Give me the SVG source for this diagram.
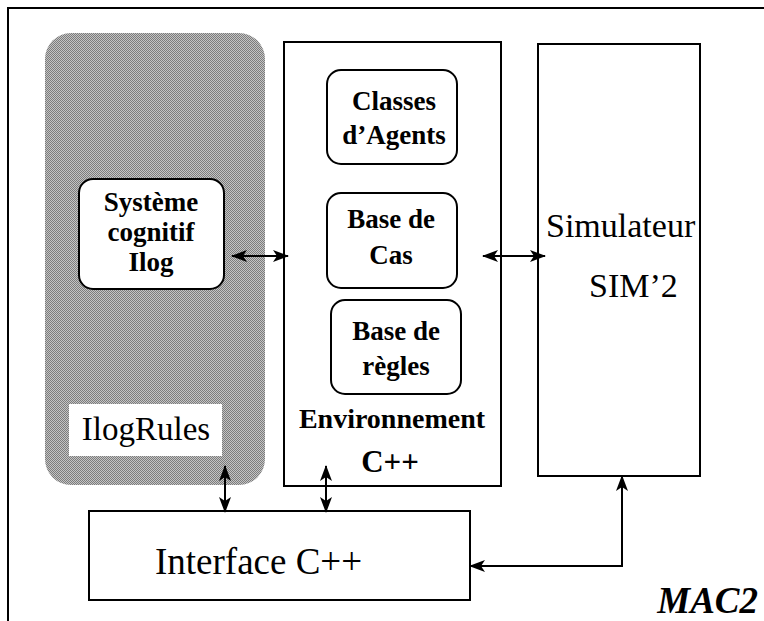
<svg xmlns="http://www.w3.org/2000/svg" width="764" height="621" viewBox="0 0 764 621">
<style>
.box{fill:#fff;stroke:#000;stroke-width:2}
.rbox{fill:#fff;stroke:#000;stroke-width:2}
.b{font-family:"Liberation Serif","Times New Roman",serif;font-weight:bold;font-size:27px;text-anchor:middle;fill:#000}
.r{font-family:"Liberation Serif","Times New Roman",serif;font-size:34px;fill:#000}
.con{stroke:#000;stroke-width:2;fill:none}
</style>
<defs>
<marker id="ah" viewBox="0 0 16 12" refX="15" refY="6" markerWidth="16" markerHeight="12" markerUnits="userSpaceOnUse" orient="auto-start-reverse">
<path d="M0,0 L16,6 L0,12 L4,6 Z" fill="#000"/>
</marker>
<pattern id="dither" width="2" height="2" patternUnits="userSpaceOnUse">
<rect width="2" height="2" fill="#c4c4c4"/>
<rect width="1" height="1" fill="#7c7c7c"/>
<rect x="1" y="1" width="1" height="1" fill="#7c7c7c"/>
</pattern>
</defs>
<rect width="764" height="621" fill="#fff"/>
<g id="frame"><rect x="8" y="8" width="760" height="630" fill="none" stroke="#000" stroke-width="2"/></g>

<g id="ilogrules">
<rect x="45" y="33" width="220" height="452" rx="26" fill="url(#dither)"/>
<rect x="69" y="404" width="153" height="52" fill="#fff"/>
<text class="r" x="146" y="440" text-anchor="middle" style="font-size:33px">IlogRules</text>
</g>
<g id="systeme">
<rect class="rbox" x="79" y="179" width="145" height="110" rx="14"/>
<text class="b" x="151" y="211">Système</text>
<text class="b" x="151" y="241">cognitif</text>
<text class="b" x="151" y="271">Ilog</text>
</g>

<g id="environnement">
<rect class="box" x="284" y="42" width="217" height="444"/>
<text class="b" x="392" y="428" style="font-size:28px">Environnement</text>
<text class="b" x="390" y="472" style="font-size:31px">C++</text>
</g>
<g id="classes">
<rect class="rbox" x="327" y="70" width="130" height="94" rx="14"/>
<text class="b" x="394" y="110">Classes</text>
<text class="b" x="394" y="144">d’Agents</text>
</g>
<g id="basecas">
<rect class="rbox" x="327" y="193" width="130" height="95" rx="14"/>
<text class="b" x="391" y="228">Base de</text>
<text class="b" x="391" y="264">Cas</text>
</g>
<g id="baseregles">
<rect class="rbox" x="331" y="300" width="130" height="94" rx="14"/>
<text class="b" x="396" y="340">Base de</text>
<text class="b" x="396" y="375">règles</text>
</g>

<g id="simulateur">
<rect class="box" x="538" y="44" width="162" height="432"/>
<text class="r" x="546" y="237">Simulateur</text>
<text class="r" x="589" y="297">SIM’2</text>
</g>

<g id="interface">
<rect class="box" x="89" y="511" width="381" height="89"/>
<text class="r" x="155" y="574" style="font-size:37px">Interface C++</text>
</g>

<g id="mac2">
<text x="758" y="613" text-anchor="end" style="font-family:'Liberation Serif','Times New Roman',serif;font-weight:bold;font-style:italic;font-size:37px">MAC2</text>
</g>

<g id="connectors">
<line class="con" x1="232" y1="256" x2="288" y2="256" marker-start="url(#ah)" marker-end="url(#ah)"/>
<line class="con" x1="483" y1="256" x2="545" y2="256" marker-start="url(#ah)" marker-end="url(#ah)"/>
<line class="con" x1="225" y1="466" x2="225" y2="512" marker-start="url(#ah)" marker-end="url(#ah)"/>
<line class="con" x1="326" y1="466" x2="326" y2="512" marker-start="url(#ah)" marker-end="url(#ah)"/>
<polyline class="con" points="470,566 622,566 622,476" marker-start="url(#ah)" marker-end="url(#ah)"/>
</g>
</svg>
